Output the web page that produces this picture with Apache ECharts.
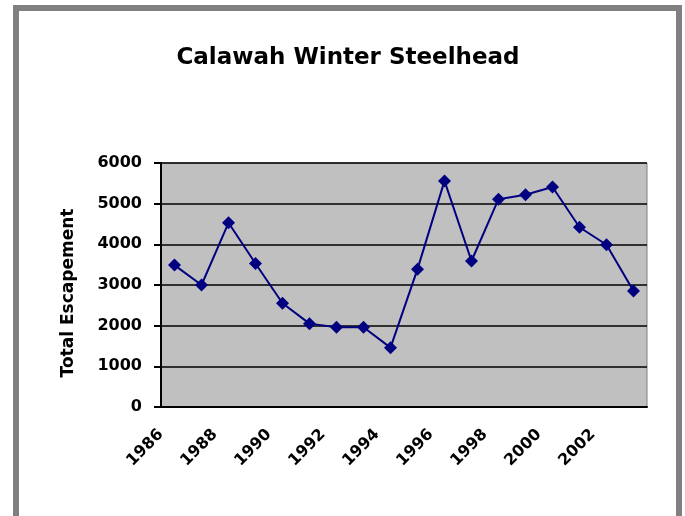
<!DOCTYPE html>
<html>
<head>
<meta charset="utf-8">
<script src="https://cdn.jsdelivr.net/npm/echarts@6/dist/echarts.min.js"></script>
<style>
  html, body { margin: 0; padding: 0; background: #fff; }
  #chart { width: 685px; height: 516px; }
</style>
</head>
<body>
<div id="chart"></div>
<script>
// escapement counts, one per year
const years = [1986, 1987, 1988, 1989, 1990, 1991, 1992, 1993, 1994,
  1995, 1996, 1997, 1998, 1999, 2000, 2001, 2002, 2003]
const escapement = [3490, 3000, 4530, 3530, 2550, 2050, 1960, 1960, 1460,
  3390, 5560, 3590, 5110, 5220, 5410, 4420, 3990, 2850]
const yTicks = [0, 1000, 2000, 3000, 4000, 5000, 6000]

const font = 'DejaVu Sans'
let mychart = echarts.init(document.getElementById('chart'))

let option = {
  animation: false,
  title: {
    text: 'Calawah Winter Steelhead',
    left: 343,
    textAlign: 'center',
    top: 42,
    textStyle: { fontFamily: font, fontWeight: 'bold', fontSize: 23, color: '#000' }
  },
  graphic: [
    {
      type: 'rect',
      shape: { x: 16, y: 8, width: 663, height: 600 },
      style: { fill: null, stroke: '#808080', lineWidth: 6 },
      silent: true
    }
  ],
  grid: {
    left: 161,
    right: 38,
    top: 163,
    bottom: 109,
    show: true,
    backgroundColor: '#c0c0c0',
    borderColor: '#808080',
    borderWidth: 1
  },
  xAxis: [
    {
      type: 'category',
      data: years,
      boundaryGap: true,
      axisLine: { lineStyle: { color: '#000', width: 2 } },
      axisTick: { inside: true, length: 6, interval: 0, lineStyle: { color: '#000', width: 2 } },
      axisLabel: { show: false }
    },
    {
      // labels sit on the tick marks, every other year
      type: 'value',
      position: 'bottom',
      min: years[0],
      max: years[years.length - 1] + 1,
      interval: 2,
      axisLine: { show: false },
      axisTick: { show: false },
      splitLine: { show: false },
      axisLabel: {
        rotate: 45,
        margin: 25,
        showMaxLabel: false,
        fontFamily: font,
        fontWeight: 'bold',
        fontSize: 16,
        color: '#000',
        formatter: v => String(v)
      }
    }
  ],
  yAxis: {
    type: 'value',
    min: yTicks[0],
    max: yTicks[yTicks.length - 1],
    interval: 1000,
    name: 'Total Escapement',
    nameLocation: 'middle',
    nameGap: 84,
    nameTextStyle: {
      fontFamily: font, fontWeight: 'bold', fontSize: 17, color: '#000',
      padding: [0, 16, 0, 0]
    },
    axisLine: { show: true, lineStyle: { color: '#000', width: 2 } },
    axisTick: { show: true, length: 7, lineStyle: { color: '#000', width: 2 } },
    axisLabel: {
      margin: 19,
      fontFamily: font,
      fontWeight: 'bold',
      fontSize: 16,
      color: '#000',
      formatter: v => String(v)
    },
    splitLine: { lineStyle: { color: '#000', width: 1.5 } }
  },
  series: [
    {
      type: 'line',
      data: escapement,
      xAxisIndex: 0,
      symbol: 'diamond',
      symbolSize: 13,
      lineStyle: { color: '#000080', width: 2 },
      itemStyle: { color: '#000080' }
    }
  ]
}
mychart.setOption(option)
</script>
</body>
</html>
